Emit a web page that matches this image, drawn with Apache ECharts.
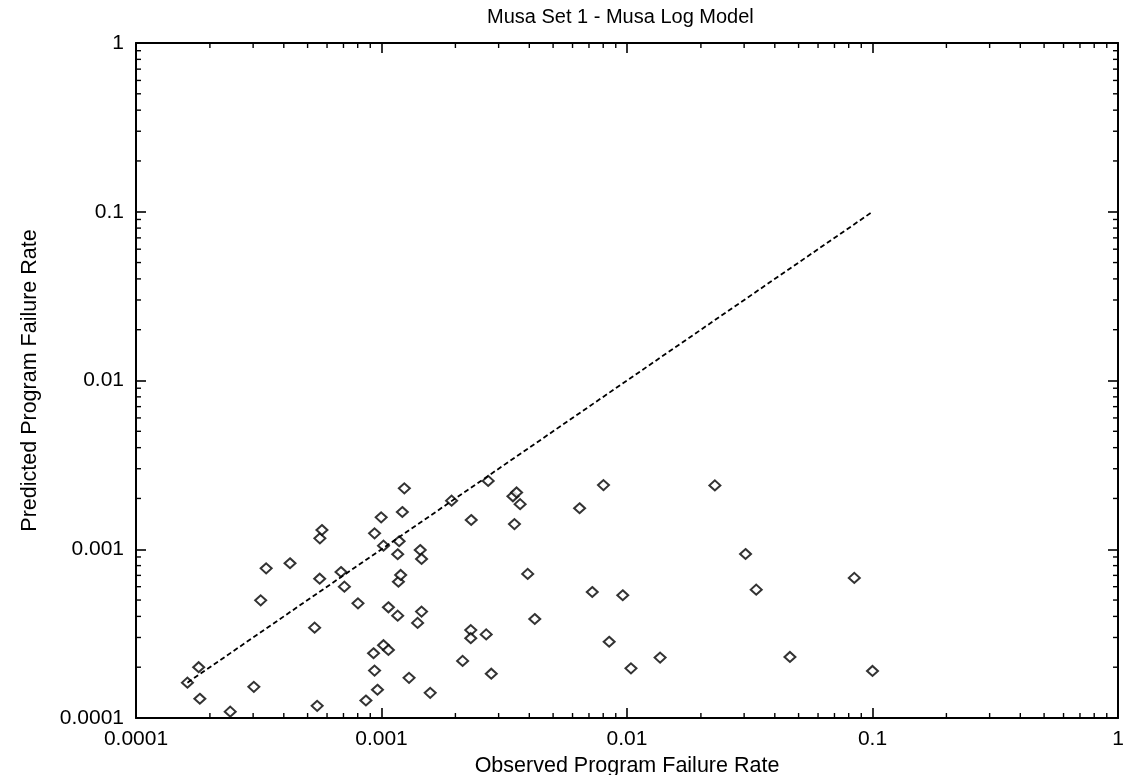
<!DOCTYPE html>
<html>
<head>
<meta charset="utf-8">
<script src="https://cdn.jsdelivr.net/npm/echarts@6/dist/echarts.min.js"></script>
<style>
html,body{margin:0;padding:0;background:#fff;}
#chart{width:1127px;height:775px;}
</style>
</head>
<body>
<div id="chart"></div>
<script>
// Observed vs predicted program failure rates
const observedRate = [
  1.62e-4, 1.80e-4, 1.82e-4, 2.42e-4, 3.02e-4, 3.22e-4, 3.39e-4, 4.24e-4, 5.34e-4, 5.47e-4,
  5.60e-4, 5.61e-4, 5.72e-4, 6.84e-4, 7.06e-4, 8.02e-4, 8.64e-4, 9.28e-4, 9.37e-4, 9.37e-4,
  9.63e-4, 9.97e-4, 1.019e-3, 1.019e-3, 1.067e-3, 1.067e-3, 1.164e-3, 1.164e-3, 1.172e-3, 1.180e-3,
  1.197e-3, 1.216e-3, 1.239e-3, 1.295e-3, 1.403e-3, 1.438e-3, 1.456e-3, 1.456e-3, 1.579e-3,
  2.72e-3, 1.93e-3, 2.32e-3, 3.43e-3, 3.55e-3, 3.67e-3, 3.48e-3, 6.41e-3, 8.02e-3, 2.28e-2,
  3.94e-3, 7.22e-3, 9.61e-3, 4.21e-3, 2.31e-3, 2.31e-3, 2.67e-3, 8.46e-3, 2.14e-3, 2.80e-3,
  1.364e-2, 1.038e-2, 3.04e-2, 3.36e-2, 8.43e-2, 4.61e-2, 0.1
];
const predictedRate = [
  1.62e-4, 2.00e-4, 1.30e-4, 1.09e-4, 1.53e-4, 4.98e-4, 7.71e-4, 8.26e-4, 3.43e-4, 1.18e-4,
  6.69e-4, 1.161e-3, 1.30e-3, 7.33e-4, 6.00e-4, 4.78e-4, 1.27e-4, 2.42e-4, 1.91e-4, 1.243e-3,
  1.47e-4, 1.546e-3, 1.05e-3, 2.70e-4, 2.53e-4, 4.53e-4, 4.04e-4, 9.34e-4, 6.42e-4, 1.115e-3,
  7.04e-4, 1.662e-3, 2.297e-3, 1.73e-4, 3.66e-4, 9.90e-4, 4.27e-4, 8.76e-4, 1.41e-4,
  2.54e-3, 1.94e-3, 1.49e-3, 2.06e-3, 2.17e-3, 1.85e-3, 1.41e-3, 1.75e-3, 2.40e-3, 2.39e-3,
  7.14e-4, 5.58e-4, 5.34e-4, 3.86e-4, 3.32e-4, 2.97e-4, 3.13e-4, 2.83e-4, 2.18e-4, 1.83e-4,
  2.28e-4, 1.97e-4, 9.37e-4, 5.76e-4, 6.76e-4, 2.30e-4, 1.90e-4
];
// Reference line (predicted = observed)
const refLineX = [1.62e-4, 0.1];
const refLineY = [1.62e-4, 0.1];

// Axis ticks
const tickValues = [0.0001, 0.001, 0.01, 0.1, 1];
const tickLabels = ['0.0001', '0.001', '0.01', '0.1', '1'];
const minorMultipliers = [2, 3, 4, 5, 6, 7, 8, 9];
const decadeStarts = [0.0001, 0.001, 0.01, 0.1];

const titleText = 'Musa Set 1 - Musa Log Model';
const xAxisTitle = 'Observed Program Failure Rate';
const yAxisTitle = 'Predicted Program Failure Rate';

const FONT = '"Liberation Sans", Arial, Helvetica, sans-serif';

function fmt(v) {
  for (let i = 0; i < tickValues.length; i++) {
    if (Math.abs(Math.log10(v) - Math.log10(tickValues[i])) < 1e-6) return tickLabels[i];
  }
  return '';
}

const minorValues = [];
decadeStarts.forEach(d => minorMultipliers.forEach(m => minorValues.push(d * m)));

const scatterData = observedRate.map((x, i) => [x, predictedRate[i]]);
const lineData = refLineX.map((x, i) => [x, refLineY[i]]);

const axisLineStyle = { color: '#000', width: 2 };
const majorTick = { show: true, inside: true, length: 10, lineStyle: { color: '#000', width: 1.6 } };

function baseAxis(extra) {
  return Object.assign({
    type: 'log', logBase: 10, min: 0.0001, max: 1,
    axisLine: { show: true, lineStyle: axisLineStyle },
    axisTick: majorTick,
    splitLine: { show: false },
    minorTick: { show: false },
    minorSplitLine: { show: false }
  }, extra);
}

const chart = echarts.init(document.getElementById('chart'), null, { renderer: 'canvas' });

const tickStyle = { stroke: '#000', lineWidth: 1.4 };
const MINOR_LEN = 5;

chart.setOption({
  backgroundColor: '#fff',
  animation: false,
  title: {
    text: titleText,
    left: 482, top: 2,
    textStyle: { fontFamily: FONT, fontSize: 20, fontWeight: 'normal', color: '#000' }
  },
  grid: { left: 136, right: 9, top: 43, bottom: 57, containLabel: false, outerBoundsMode: 'none' },
  xAxis: [
    baseAxis({
      position: 'bottom',
      name: xAxisTitle, nameLocation: 'middle', nameGap: 30,
      nameTextStyle: { fontFamily: FONT, fontSize: 21.5, color: '#000' },
      axisLabel: { show: true, margin: 11, color: '#000', fontFamily: FONT, fontSize: 21, formatter: fmt }
    }),
    baseAxis({ position: 'top', axisLabel: { show: false } })
  ],
  yAxis: [
    baseAxis({
      position: 'left',
      name: yAxisTitle, nameLocation: 'middle', nameGap: 95,
      nameTextStyle: { fontFamily: FONT, fontSize: 21.5, color: '#000' },
      axisLabel: { show: true, margin: 12, color: '#000', fontFamily: FONT, fontSize: 21, formatter: fmt }
    }),
    baseAxis({ position: 'right', axisLabel: { show: false } })
  ],
  series: [
    {
      type: 'custom', name: 'xMinor', xAxisIndex: 0, yAxisIndex: 0, silent: true, clip: false,
      data: minorValues.map(v => [v, 0.001]),
      renderItem: function (params, api) {
        const cs = params.coordSys;
        const px = api.coord([api.value(0), 0.001])[0];
        const yb = cs.y + cs.height, yt = cs.y;
        return { type: 'group', children: [
          { type: 'line', shape: { x1: px, y1: yb, x2: px, y2: yb - MINOR_LEN }, style: tickStyle },
          { type: 'line', shape: { x1: px, y1: yt, x2: px, y2: yt + MINOR_LEN }, style: tickStyle }
        ]};
      }
    },
    {
      type: 'custom', name: 'yMinor', xAxisIndex: 0, yAxisIndex: 0, silent: true, clip: false,
      data: minorValues.map(v => [0.001, v]),
      renderItem: function (params, api) {
        const cs = params.coordSys;
        const py = api.coord([0.001, api.value(1)])[1];
        const xl = cs.x, xr = cs.x + cs.width;
        return { type: 'group', children: [
          { type: 'line', shape: { x1: xl, y1: py, x2: xl + MINOR_LEN, y2: py }, style: tickStyle },
          { type: 'line', shape: { x1: xr, y1: py, x2: xr - MINOR_LEN, y2: py }, style: tickStyle }
        ]};
      }
    },
    {
      type: 'line', name: 'reference', xAxisIndex: 0, yAxisIndex: 0,
      data: lineData, symbol: 'none', silent: true,
      lineStyle: { color: '#000', width: 1.8, type: [5, 3] }
    },
    {
      type: 'scatter', name: 'rates', xAxisIndex: 0, yAxisIndex: 0,
      data: scatterData,
      symbol: 'diamond', symbolSize: [11, 10],
      itemStyle: { color: '#fff', borderColor: '#000', borderWidth: 2 }
    }
  ]
});
</script>
</body>
</html>
